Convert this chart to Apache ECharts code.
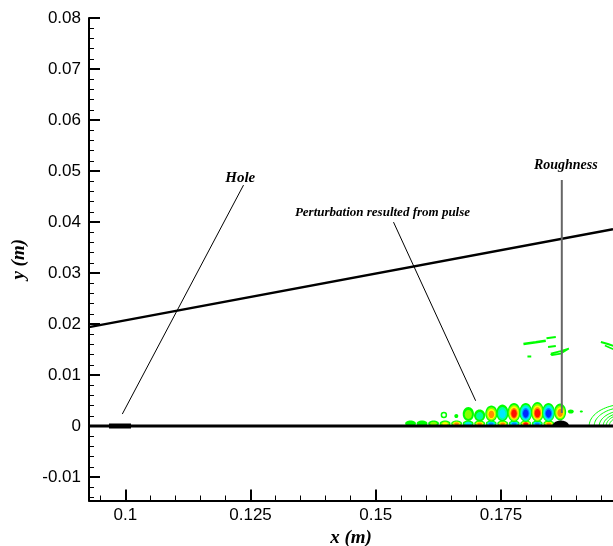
<!DOCTYPE html>
<html>
<head>
<meta charset="utf-8">
<script src="https://cdn.jsdelivr.net/npm/echarts@6/dist/echarts.min.js"></script>
<style>
  html, body { margin: 0; padding: 0; background: #fff; }
  #chart { width: 613px; height: 546px; }
</style>
</head>
<body>
<div id="chart"></div>
<script>
// ---- axis ticks ----
const xMajorTicks = [0.1, 0.125, 0.15, 0.175];
const xMinorTicks = [0.095, 0.105, 0.11, 0.115, 0.12, 0.13, 0.135, 0.14, 0.145,
  0.155, 0.16, 0.165, 0.17, 0.18, 0.185, 0.19, 0.195];
const yMajorTicks = [-0.01, 0, 0.01, 0.02, 0.03, 0.04, 0.05, 0.06, 0.07, 0.08];
const yMinorTicks = [-0.014, -0.012, -0.008, -0.006, -0.004, -0.002,
  0.002, 0.004, 0.006, 0.008, 0.012, 0.014, 0.016, 0.018,
  0.022, 0.024, 0.026, 0.028, 0.032, 0.034, 0.036, 0.038,
  0.042, 0.044, 0.046, 0.048, 0.052, 0.054, 0.056, 0.058,
  0.062, 0.064, 0.066, 0.068, 0.072, 0.074, 0.076, 0.078];

const xMin = 0.09275, xMax = 0.19736;
const yMin = -0.0146, yMax = 0.08;

// ---- geometry lines ----
const wallLine = [[0.09275, 0], [0.19736, 0]];
const holeSegment = [[0.09674, 0], [0.10114, 0]];
const boundaryLine = [[0.09275, 0.0194], [0.19736, 0.0386]];
// roughness element: [x centre, half width, height]
const roughnessBump = [[0.18694, 0.00166, 0.00108]];

// ---- wave packet contour blobs: x, y, half width, half height, signed level count ----
const packetUpperX = [0.1636, 0.16608, 0.16848, 0.17074, 0.17308, 0.17528, 0.1776, 0.17994, 0.18228, 0.18448, 0.1868, 0.18894, 0.19104];
const packetUpperY = [0.00216, 0.00196, 0.00235, 0.00206, 0.00245, 0.00255, 0.00265, 0.00265, 0.00274, 0.00265, 0.00274, 0.00284, 0.00284];
const packetUpperW = [0.0005, 0.0004, 0.00112, 0.00112, 0.00122, 0.00122, 0.00128, 0.00128, 0.0013, 0.00128, 0.0012, 0.0006, 0.0003];
const packetUpperH = [0.0005, 0.0004, 0.00137, 0.00118, 0.00157, 0.00167, 0.00186, 0.00186, 0.00196, 0.00186, 0.00167, 0.0004, 0.0002];
const packetUpperLevel = [0, -1, 2, -2, 4, -3, 5, -5, 5, -5, 4, 1, 1];

const packetLowerX = [0.15694, 0.15924, 0.16154, 0.16384, 0.16614, 0.16844, 0.17074, 0.17304, 0.17534, 0.17764, 0.17994, 0.18224, 0.18454];
const packetLowerY = 0.00049;
const packetLowerW = 0.00108;
const packetLowerH = 0.00059;
const packetLowerLevel = [1, 1, 2, 3, 4, -3, 4, -4, 4, -4, 5, -4, 4];

// ---- downstream contour arcs (centre on the wall): x centre, x radius, y radius ----
const arcCx = [0.2, 0.2, 0.2, 0.2, 0.2, 0.2];
const arcRx = [0.0074, 0.0064, 0.0054, 0.0046, 0.004, 0.0034];
const arcRy = [0.0043, 0.0037, 0.0031, 0.0027, 0.0024, 0.002];

// ---- free-stream contour fragments ----
const streakA = [[0.17948, 0.01607], [0.18194, 0.01641], [0.18394, 0.01672]];
const streakB = [[0.18408, 0.01719], [0.18594, 0.01744]];
const streakC = [[0.1844, 0.01548], [0.18594, 0.01568]];
const streakD = [[0.18494, 0.01421], [0.18694, 0.0147], [0.18854, 0.01519], [0.18864, 0.0148], [0.18694, 0.01421], [0.18514, 0.01392], [0.18494, 0.01421]];
const streakE = [[0.18028, 0.01362], [0.18104, 0.01362]];
const streakF = [[0.19494, 0.01646], [0.19634, 0.01607], [0.19754, 0.01568]];
const streakG = [[0.19574, 0.01578], [0.19754, 0.01499]];

// ---- annotations ----
const noteText = ['Hole', 'Perturbation resulted from pulse', 'Roughness'];
const noteX = [0.12294, 0.15134, 0.18794];
const noteY = [0.0487, 0.04175, 0.05106];
const holeLeader = [[0.1236, 0.04724], [0.0994, 0.00235]];
const pulseLeader = [[0.15354, 0.03998], [0.16994, 0.00496]];
const roughnessLeader = [[0.18714, 0.04822], [0.18714, 0.00255]];

// ---- styling ----
const noteFontSize = [15, 13, 14];
const POS = ['#00ff00', '#88ff00', '#ffff00', '#ff8a00', '#ff1000'];
const NEG = ['#00ff00', '#00ffa0', '#00e8ff', '#0090ff', '#0028ff'];
const GREEN = '#00ff00';

const blobData = [];
packetLowerX.forEach((x, i) => blobData.push([x, packetLowerY, packetLowerW, packetLowerH, packetLowerLevel[i]]));
packetUpperX.forEach((x, i) => blobData.push([x, packetUpperY[i], packetUpperW[i], packetUpperH[i], packetUpperLevel[i]]));

function renderBlob(params, api) {
  const c = api.coord([api.value(0), api.value(1)]);
  const s = api.size([api.value(2), api.value(3)]);
  const lv = api.value(4);
  const n = Math.abs(lv);
  if (n === 0) {
    return { type: 'ellipse', shape: { cx: c[0], cy: c[1], rx: s[0], ry: s[1] },
      style: { fill: 'none', stroke: GREEN, lineWidth: 1.5 } };
  }
  const pal = lv > 0 ? POS : NEG;
  const children = [];
  for (let k = 0; k < n; k++) {
    const f = 1 - k * 0.72 / n;
    children.push({ type: 'ellipse',
      shape: { cx: c[0], cy: c[1] + s[1] * (1 - f) * 0.2, rx: s[0] * f, ry: s[1] * f },
      style: { fill: pal[k] } });
  }
  return { type: 'group', children };
}

function renderArc(params, api) {
  const c = api.coord([api.value(0), 0]);
  const s = api.size([api.value(1), api.value(2)]);
  const pts = [];
  for (let i = 0; i <= 48; i++) {
    const t = Math.PI * i / 48;
    pts.push([c[0] + s[0] * Math.cos(t), c[1] - s[1] * Math.sin(t)]);
  }
  return { type: 'polyline', shape: { points: pts }, style: { fill: 'none', stroke: GREEN, lineWidth: 1 } };
}

function renderBump(params, api) {
  const c = api.coord([api.value(0), 0]);
  const s = api.size([api.value(1), api.value(2)]);
  const pts = [];
  for (let i = 0; i <= 32; i++) {
    const t = Math.PI * i / 32;
    pts.push([c[0] + s[0] * Math.cos(t), c[1] - s[1] * Math.sin(t)]);
  }
  return { type: 'polygon', shape: { points: pts }, style: { fill: '#000' } };
}

function renderNote(params, api) {
  const c = api.coord([api.value(0), api.value(1)]);
  const i = params.dataIndex;
  return { type: 'text', x: c[0], y: c[1],
    style: { text: noteText[i], fill: '#000', align: 'center', verticalAlign: 'middle',
      font: 'italic bold ' + noteFontSize[i] + 'px "Liberation Serif", "Times New Roman", serif' } };
}

function lineSeries(data, color, width, z) {
  return { type: 'line', data, symbol: 'none', silent: true, animation: false, z,
    lineStyle: { color, width }, clip: true };
}

const labelFont = { color: '#000', fontSize: 17, fontFamily: '"Liberation Sans", Arial, sans-serif' };
const titleFont = { color: '#000', fontSize: 19, fontStyle: 'italic', fontWeight: 'bold',
  fontFamily: '"Liberation Serif", "Times New Roman", serif' };

const chart = echarts.init(document.getElementById('chart'), null, { renderer: 'canvas' });
chart.setOption({
  animation: false,
  backgroundColor: '#fff',
  grid: { left: 89, right: 0, top: 18, bottom: 45.5, containLabel: false, outerBoundsMode: 'none' },
  xAxis: [{
    type: 'value', min: xMin, max: xMax, position: 'bottom',
    name: 'x (m)', nameLocation: 'middle', nameGap: 25, nameTextStyle: titleFont,
    axisLine: { show: true, onZero: false, lineStyle: { color: '#000', width: 2 } },
    axisTick: { show: true, inside: true, length: 11, customValues: xMajorTicks, lineStyle: { color: '#000', width: 2 } },
    axisLabel: { show: true, margin: 6, customValues: xMajorTicks, ...labelFont },
    splitLine: { show: false }
  }, {
    type: 'value', min: xMin, max: xMax, position: 'bottom',
    axisLine: { show: false, onZero: false },
    axisTick: { show: true, inside: true, length: 5, customValues: xMinorTicks, lineStyle: { color: '#000', width: 1 } },
    axisLabel: { show: false }, splitLine: { show: false }
  }],
  yAxis: [{
    type: 'value', min: yMin, max: yMax, position: 'left',
    name: 'y (m)', nameLocation: 'middle', nameGap: 60, nameTextStyle: titleFont,
    axisLine: { show: true, onZero: false, lineStyle: { color: '#000', width: 2 } },
    axisTick: { show: true, inside: true, length: 11, customValues: yMajorTicks, lineStyle: { color: '#000', width: 2 } },
    axisLabel: { show: true, margin: 8, customValues: yMajorTicks, ...labelFont },
    splitLine: { show: false }
  }, {
    type: 'value', min: yMin, max: yMax, position: 'left',
    axisLine: { show: false, onZero: false },
    axisTick: { show: true, inside: true, length: 5, customValues: yMinorTicks, lineStyle: { color: '#000', width: 1 } },
    axisLabel: { show: false }, splitLine: { show: false }
  }],
  series: [
    { type: 'custom', renderItem: renderArc, data: arcCx.map((x, i) => [x, arcRx[i], arcRy[i]]),
      encode: { x: 0 }, clip: true, silent: true, z: 2 },
    { type: 'custom', renderItem: renderBlob, data: blobData, encode: { x: 0, y: 1 }, clip: true, silent: true, z: 3 },
    lineSeries(streakA, GREEN, 2.5, 3),
    lineSeries(streakB, GREEN, 2, 3),
    lineSeries(streakC, GREEN, 2, 3),
    lineSeries(streakD, GREEN, 1.8, 3),
    lineSeries(streakE, GREEN, 2, 3),
    lineSeries(streakF, GREEN, 2, 3),
    lineSeries(streakG, GREEN, 1.5, 3),
    lineSeries(boundaryLine, '#000', 2.4, 5),
    lineSeries(holeLeader, '#000', 1, 5),
    lineSeries(pulseLeader, '#000', 1, 5),
    lineSeries(roughnessLeader, '#666', 2, 6),
    { type: 'custom', renderItem: renderBump, data: roughnessBump, encode: { x: 0 }, clip: true, silent: true, z: 7 },
    lineSeries(wallLine, '#000', 3, 8),
    lineSeries(holeSegment, '#000', 5, 9),
    { type: 'custom', renderItem: renderNote, data: noteX.map((x, i) => [x, noteY[i]]),
      encode: { x: 0, y: 1 }, clip: false, silent: true, z: 10 }
  ]
});
</script>
</body>
</html>
